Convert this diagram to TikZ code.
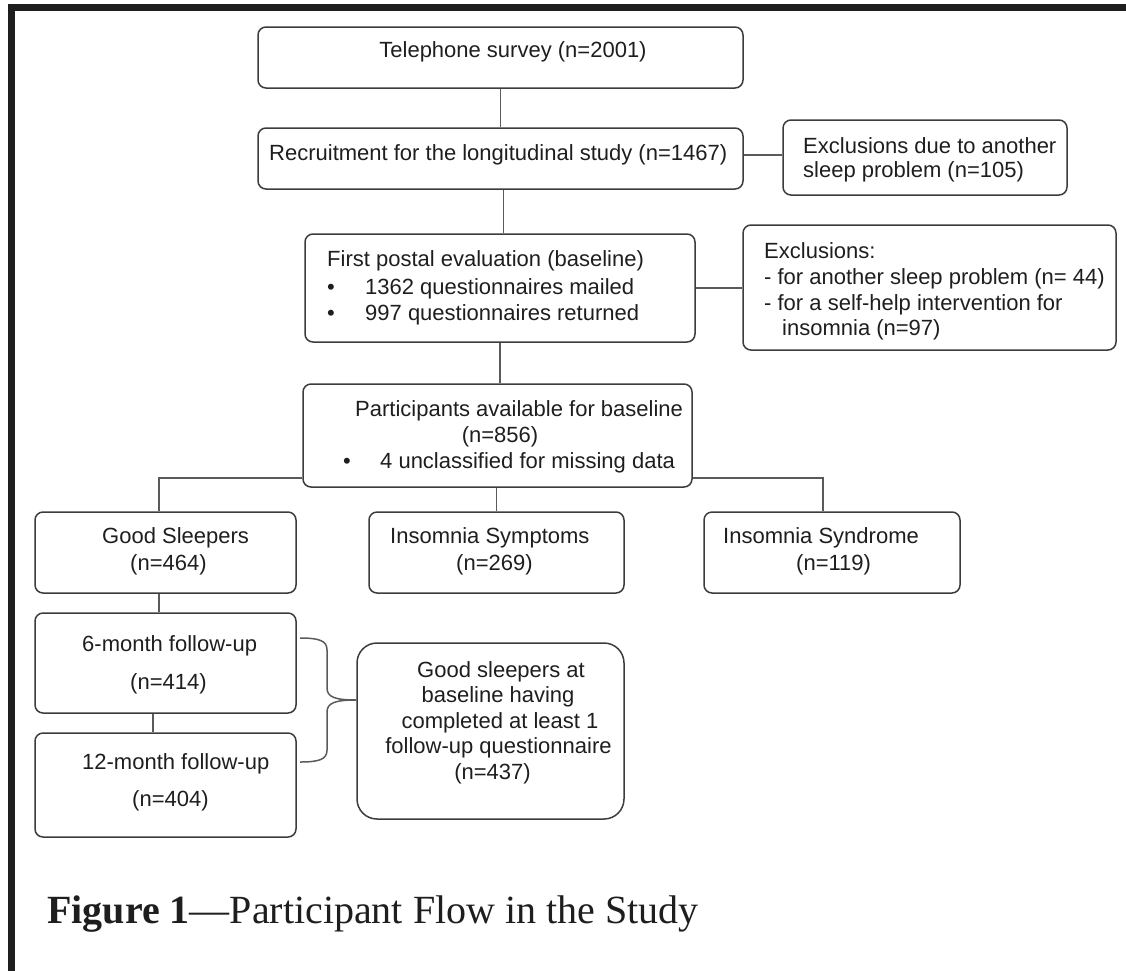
\documentclass[tikz,border=0pt]{standalone}
\usepackage{fontspec}
\newfontfamily\arialf{Liberation Sans}
\newfontfamily\timesf{Liberation Serif}
\definecolor{boxc}{HTML}{3C3C3C}
\definecolor{linec}{HTML}{5A5A5A}
\definecolor{txtc}{HTML}{1E1E1E}
\definecolor{framec}{HTML}{1E1E1E}
\begin{document}
\begin{tikzpicture}[x=1pt,y=-1pt,
  box/.style={draw=boxc, line width=1.5pt, rounded corners=8pt, inner sep=0pt},
  t/.style={inner sep=0pt, anchor=base west, font=\arialf\fontsize{22pt}{26pt}\selectfont, text=txtc},
  tc/.style={t, anchor=base},
  conn/.style={draw=linec, line width=1.5pt}]
\useasboundingbox (0,0) rectangle (1126,970);
% frame
\draw[framec, line width=7pt, line join=miter] (11.7,975) -- (11.7,7.5) -- (1130,7.5);
% boxes
\node[box, minimum width=485pt, minimum height=61pt] (A) at (500.5,57.5) {};
\node[box, minimum width=485pt, minimum height=61pt] (B) at (500.5,158.5) {};
\node[box, minimum width=284pt, minimum height=75pt] (C) at (925,157.5) {};
\node[box, minimum width=390pt, minimum height=108pt] (D) at (500,288) {};
\node[box, minimum width=373pt, minimum height=125pt] (E) at (929.5,287.5) {};
\node[box, minimum width=389pt, minimum height=103pt] (F) at (497.5,435.5) {};
\node[box, minimum width=261pt, minimum height=81pt] (G) at (165.5,552.5) {};
\node[box, minimum width=255pt, minimum height=81pt] (I) at (496.5,552.5) {};
\node[box, minimum width=256pt, minimum height=81pt] (J) at (832,552.5) {};
\node[box, minimum width=261pt, minimum height=100pt] (K) at (165.5,663) {};
\node[box, minimum width=261pt, minimum height=104pt] (L) at (165.5,785) {};
\node[box, rounded corners=20pt, minimum width=267pt, minimum height=176pt] (H) at (490.5,731) {};
% texts
\node[tc] (tA) at (513,57.5) {Telephone survey (n=2001)};
\node[t] (tB) at (269,160) {Recruitment for the longitudinal study (n=1467)};
\node[t] (tC1) at (803,153) {Exclusions due to another};
\node[t] (tC2) at (803,177.5) {sleep problem (n=105)};
\node[t] (tD1) at (327,266.7) {First postal evaluation (baseline)};
\node[t] (tD2) at (327,294) {\makebox[38pt][l]{•}1362 questionnaires mailed};
\node[t] (tD3) at (327,320.5) {\makebox[38pt][l]{•}997 questionnaires returned};
\node[t] (tE1) at (764,258.3) {Exclusions:};
\node[t] (tE2) at (764,284.5) {- for another sleep problem (n= 44)};
\node[t] (tE3) at (764,310) {- for a self-help intervention for};
\node[t] (tE4) at (782,335.5) {insomnia (n=97)};
\node[t] (tF1) at (355,416) {Participants available for baseline};
\node[tc] (tF2) at (500,442.7) {(n=856)};
\node[t] (tF3) at (343,468.3) {\makebox[37pt][l]{•}4 unclassified for missing data};
\node[t] (tG1) at (102,543.3) {Good Sleepers};
\node[t] (tG2) at (130,570) {(n=464)};
\node[t] (tI1) at (390,543.5) {Insomnia Symptoms};
\node[t] (tI2) at (456,570) {(n=269)};
\node[t] (tJ1) at (723,543.5) {Insomnia Syndrome};
\node[t] (tJ2) at (796,570) {(n=119)};
\node[t] (tK1) at (82,651.7) {6-month follow-up};
\node[t] (tK2) at (130,689.3) {(n=414)};
\node[t] (tL1) at (82,769.3) {12-month follow-up};
\node[t] (tL2) at (132,806) {(n=404)};
\node[tc] (tH1) at (501,677.3) {Good sleepers at};
\node[tc] (tH2) at (498,702.7) {baseline having};
\node[tc] (tH3) at (500,728.3) {completed at least 1};
\node[tc] (tH4) at (498.5,753.3) {follow-up questionnaire};
\node[tc] (tH5) at (492.5,779) {(n=437)};
\node[inner sep=0pt, anchor=base west, font=\timesf\fontsize{40pt}{47pt}\selectfont, text=txtc] (cap) at (47,923) {{\bfseries Figure 1}—Participant Flow in the Study};
% connectors
\draw[conn] (A.south) -- (B.north);
\draw[conn] ([xshift=3pt]B.south) -- ([xshift=3pt]B.south |- D.north);
\draw[conn] ([yshift=3.5pt]B.east) -- ([yshift=3.5pt]B.east -| C.west);
\draw[conn] (D.east) -- (D.east -| E.west);
\draw[conn] (D.south) -- (D.south |- F.north);
\draw[conn] ([yshift=-42.5pt]F.west) -| ([xshift=-6.5pt]G.north);
\draw[conn] (I.north |- F.south) -- (I.north);
\draw[conn] ([yshift=-42.5pt]F.east) -| ([xshift=-9pt]J.north);
\draw[conn] ([xshift=-6.5pt]G.south) -- ([xshift=-6.5pt]K.north);
\draw[conn] ([xshift=-12.5pt]K.south) -- ([xshift=-12.5pt]L.north);
% brace
\coordinate (b1) at (300,638);
\coordinate (b2) at (300,762);
\draw[conn] (b1) .. controls (320,638) and (327,641) .. (327,650) -- (327,688) .. controls (327,697) and (335,700) .. ([yshift=31pt]H.west);
\draw[conn] ([yshift=31pt]H.west) .. controls (335,700) and (327,703) .. (327,712) -- (327,750) .. controls (327,759) and (320,762) .. (b2);
\end{tikzpicture}
\end{document}
